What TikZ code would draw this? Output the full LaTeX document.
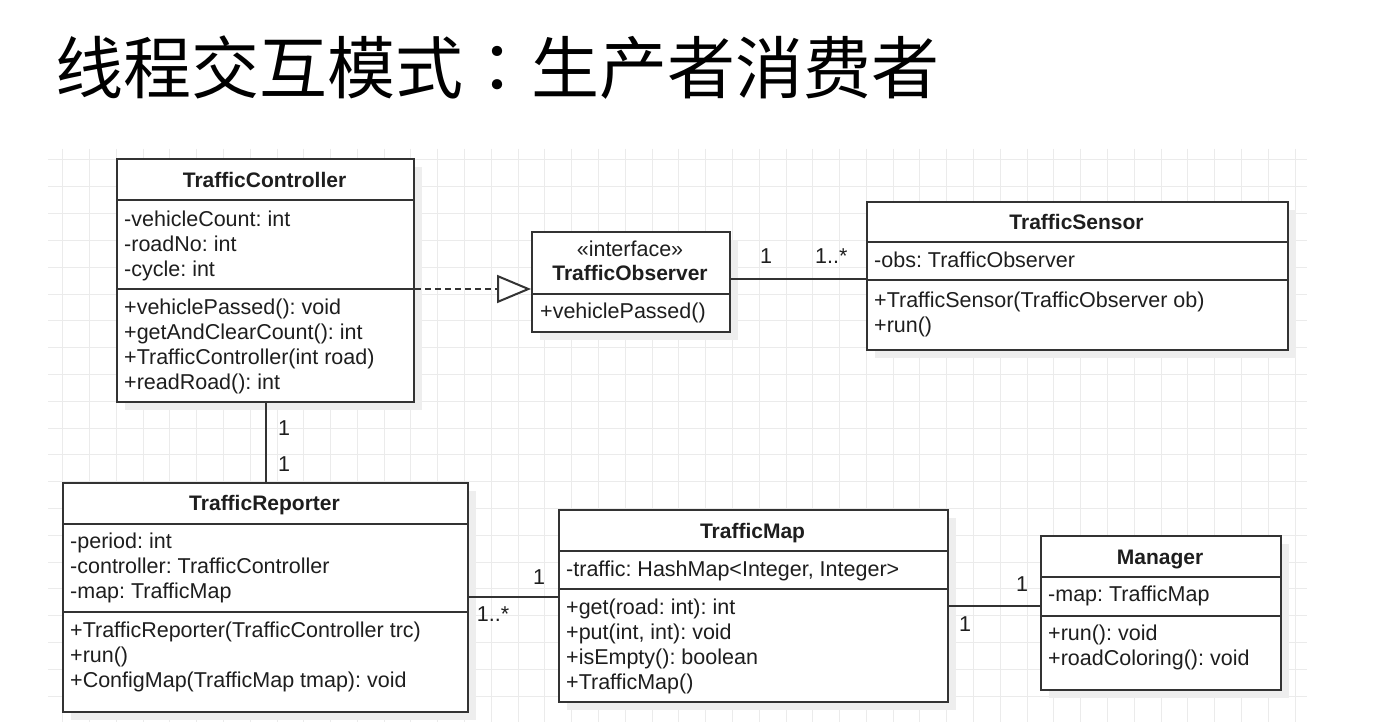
\documentclass[tikz,border=0pt]{standalone}
\usepackage{fontspec}
\setmainfont{Liberation Sans}
\newfontfamily\cjk{Noto Sans CJK SC}
\newfontfamily\cjkjp{Noto Sans CJK JP}
\usetikzlibrary{arrows.meta,shadows}
\definecolor{gridc}{HTML}{EBEBEB}
\definecolor{linec}{HTML}{333333}
\definecolor{txtc}{HTML}{1E1E1E}
\definecolor{shadowc}{HTML}{EEEEEE}
\frenchspacing
\begin{document}
\begin{tikzpicture}[x=1pt,y=-1pt,
 cls/.style={draw=linec, line width=2pt, fill=white, anchor=north west, inner sep=0pt,
   drop shadow={shadow xshift=8pt, shadow yshift=-8pt, fill=shadowc, opacity=1}},
 txt/.style={anchor=base west, inner sep=0pt, text=txtc, font=\fontsize{21.5}{25}\selectfont},
 ttl/.style={anchor=base, inner sep=0pt, text=txtc, font=\bfseries\fontsize{21}{25}\selectfont},
 mult/.style={anchor=base west, inner sep=0pt, text=txtc, font=\fontsize{21.5}{25}\selectfont},
 sep/.style={draw=linec, line width=2pt},
 assoc/.style={draw=linec, line width=2pt},
 realize/.style={draw=linec, line width=2pt, dash pattern=on 6pt off 4pt,
   -{Triangle[open, fill=white, length=34pt, width=28pt]}},
]
\useasboundingbox (0,0) rectangle (1378,722);
\fill[white] (0,0) rectangle (1378,722);
% grid
\begin{scope}
\clip (48,149) rectangle (1307,722);
\foreach \i in {0,...,46} \draw[gridc, line width=1pt] ({62.7+26.79*\i},149) -- ({62.7+26.79*\i},722);
\foreach \j in {0,...,21} \draw[gridc, line width=1pt] (48,{160+26.8*\j}) -- (1307,{160+26.8*\j});
\end{scope}
% title
\node[anchor=base west, inner sep=0pt, font=\cjk\fontsize{68}{80}\selectfont] (title) at (55,94) {线程交互模式{\cjkjp ：}生产者消费者};

% TrafficController
\node[cls, minimum width=297pt, minimum height=243pt] (tc) at (116,158) {};
\draw[sep] (116,200) -- (413,200);
\draw[sep] (116,289) -- (413,289);
\node[ttl] (tc-n) at (264.5,188) {TrafficController};
\node[txt] (tc-a1) at (124,226) {-vehicleCount: int};
\node[txt] (tc-a2) at (124,251) {-roadNo: int};
\node[txt] (tc-a3) at (124,276) {-cycle: int};
\node[txt] (tc-m1) at (124,314) {+vehiclePassed(): void};
\node[txt] (tc-m2) at (124,339) {+getAndClearCount(): int};
\node[txt] (tc-m3) at (124,364) {+TrafficController(int road)};
\node[txt] (tc-m4) at (124,389) {+readRoad(): int};

% TrafficObserver
\node[cls, minimum width=198pt, minimum height=100pt] (to) at (531,231) {};
\draw[sep] (531,294) -- (729,294);
\node[txt, anchor=base] (to-s) at (630,256) {«interface»};
\node[ttl] (to-n) at (630,280) {TrafficObserver};
\node[txt] (to-m1) at (540,318) {+vehiclePassed()};

% TrafficSensor
\node[cls, minimum width=421pt, minimum height=148pt] (ts) at (866,201) {};
\draw[sep] (866,242) -- (1287,242);
\draw[sep] (866,280) -- (1287,280);
\node[ttl] (ts-n) at (1076.5,229.5) {TrafficSensor};
\node[txt] (ts-a1) at (874,267) {-obs: TrafficObserver};
\node[txt] (ts-m1) at (874,307.5) {+TrafficSensor(TrafficObserver ob)};
\node[txt] (ts-m2) at (874,332) {+run()};

% TrafficReporter
\node[cls, minimum width=405pt, minimum height=229pt] (tr) at (62,482) {};
\draw[sep] (62,524) -- (467,524);
\draw[sep] (62,612) -- (467,612);
\node[ttl] (tr-n) at (264.5,510.5) {TrafficReporter};
\node[txt] (tr-a1) at (70,548.5) {-period: int};
\node[txt] (tr-a2) at (70,573.5) {-controller: TrafficController};
\node[txt] (tr-a3) at (70,598.5) {-map: TrafficMap};
\node[txt] (tr-m1) at (70,637) {+TrafficReporter(TrafficController trc)};
\node[txt] (tr-m2) at (70,662) {+run()};
\node[txt] (tr-m3) at (70,687) {+ConfigMap(TrafficMap tmap): void};

% TrafficMap
\node[cls, minimum width=389pt, minimum height=192pt] (tm) at (558,509) {};
\draw[sep] (558,551) -- (947,551);
\draw[sep] (558,589) -- (947,589);
\node[ttl] (tm-n) at (752.5,538) {TrafficMap};
\node[txt] (tm-a1) at (566,576) {-traffic: HashMap<Integer, Integer>};
\node[txt] (tm-m1) at (566,614) {+get(road: int): int};
\node[txt] (tm-m2) at (566,639) {+put(int, int): void};
\node[txt] (tm-m3) at (566,664) {+isEmpty(): boolean};
\node[txt] (tm-m4) at (566,689) {+TrafficMap()};

% Manager
\node[cls, minimum width=240pt, minimum height=154pt] (mg) at (1040,535) {};
\draw[sep] (1040,577) -- (1280,577);
\draw[sep] (1040,616) -- (1280,616);
\node[ttl] (mg-n) at (1160,564) {Manager};
\node[txt] (mg-a1) at (1048,601.5) {-map: TrafficMap};
\node[txt] (mg-m1) at (1048,640) {+run(): void};
\node[txt] (mg-m2) at (1048,665.5) {+roadColoring(): void};

% connectors
\draw[realize] (tc.east |- 0,289) -- (to.west |- 0,289);
\draw[assoc] (to.east |- 0,279) -- (ts.west |- 0,279);
\node[mult] (l1) at (760,263.3) {1};
\node[mult] (l2) at (815,263) {1..*};
\draw[assoc] (tc.south) -- (tr.north);
\node[mult] (l3) at (278,435) {1};
\node[mult] (l4) at (278,471.7) {1};
\draw[assoc] (tr.east |- 0,597) -- (tm.west |- 0,597);
\node[mult] (l5) at (533,584.3) {1};
\node[mult] (l6) at (476.7,621.7) {1..*};
\draw[assoc] (tm.east |- 0,606) -- (mg.west |- 0,606);
\node[mult] (l7) at (1016,591) {1};
\node[mult] (l8) at (959,631) {1};
\end{tikzpicture}
\end{document}
